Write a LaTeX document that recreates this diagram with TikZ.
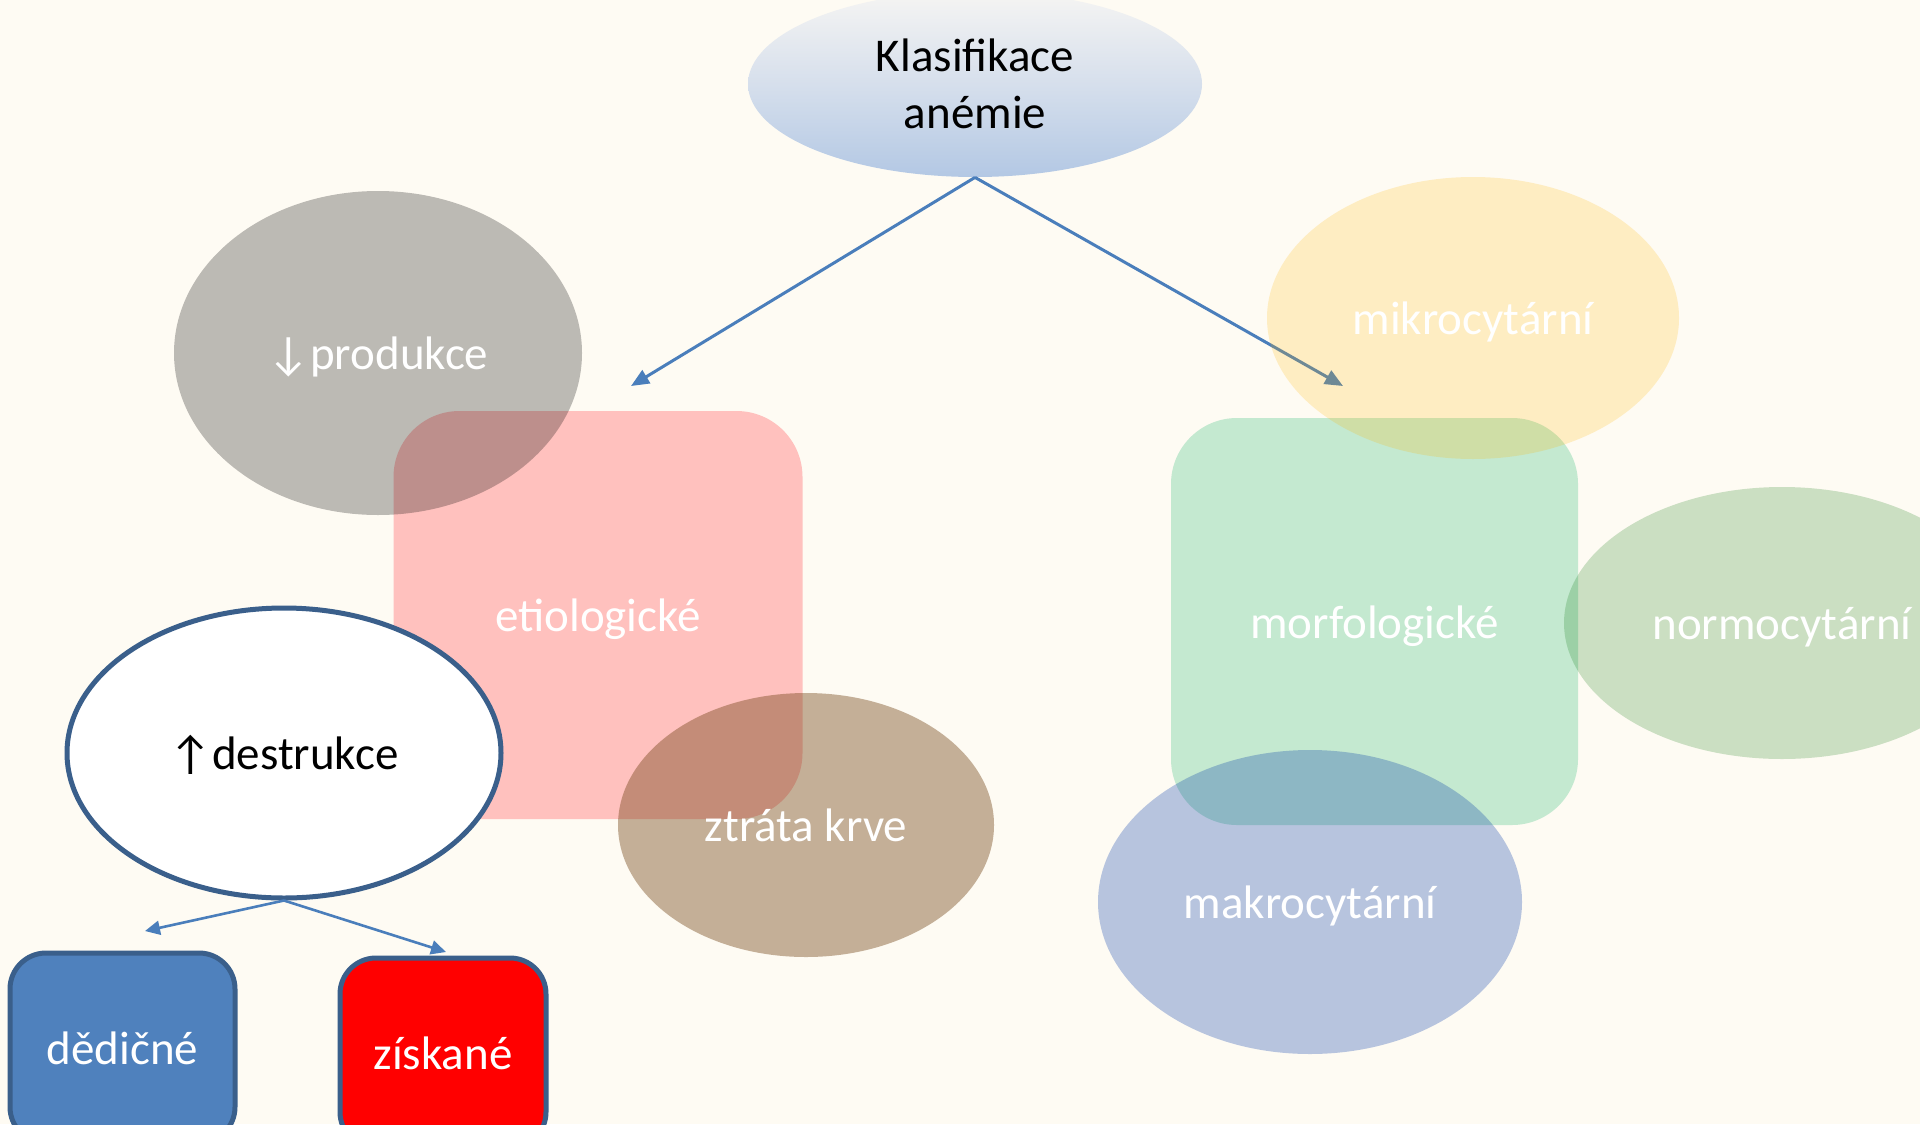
\documentclass[tikz,border=0pt]{standalone}
\usepackage{fontspec}
\setmainfont{Carlito}
\usetikzlibrary{shapes.geometric,arrows.meta}
\definecolor{bg}{HTML}{FEFBF3}
\definecolor{arrowblue}{HTML}{4A7EBB}
\definecolor{pinkfill}{HTML}{FFC1BE}
\definecolor{greenfill}{HTML}{C4E9D0}
\definecolor{brownbase}{HTML}{6D3D0F}
\definecolor{yellowbase}{HTML}{FFB500}
\definecolor{normobase}{HTML}{006F00}
\definecolor{makrobase}{HTML}{0037A8}
\definecolor{boxborder}{HTML}{3A5F8B}
\definecolor{bluebox}{HTML}{4F81BD}
\definecolor{topA}{HTML}{F6F5F3}
\definecolor{topB}{HTML}{D6DFEC}
\definecolor{topC}{HTML}{B3C8E4}
\tikzset{
  lbl/.style={font=\fontsize{23.5}{28.5}\selectfont, text=white, text opacity=1, inner sep=0pt, align=center},
  one/.style={text height=18.5pt, text depth=2pt},
  ell/.style={ellipse, lbl},
  rbox/.style={rectangle, rounded corners=33pt, lbl, one},
  conn/.style={draw=arrowblue, line width=1.5pt, -{Triangle[length=9pt,width=7.5pt]}},
  conn2/.style={draw=arrowblue, line width=1.3pt, -{Triangle[length=7.5pt,width=7pt]}},
  catbox/.style={rectangle, rounded corners=18pt, draw=boxborder, line width=2.5pt, lbl, one}
}
\begin{document}
\begin{tikzpicture}[x=0.5pt,y=-0.5pt]
\useasboundingbox (0,0) rectangle (1920,1124);
\fill[bg] (0,0) rectangle (1920,1124);
\clip (0,0) rectangle (1920,1124);

% top node
\node[ell, text=black, minimum width=227pt, minimum height=93pt,
      top color=topA, bottom color=topC, middle color=topB] (klas) at (975,84) {Klasifikace\\anémie};

\coordinate (etiTip) at (631,386);
\coordinate (morTip) at (1343,386);
\draw[conn] (klas.south) -- (etiTip);
\draw[conn] (klas.south) -- (morTip);

% left group
\node[rbox, fill=pinkfill, minimum width=204.5pt, minimum height=204pt] (eti) at (598,615) {etiologické};
\node[ell, one, fill=black, fill opacity=0.26, minimum width=204pt, minimum height=162pt] (prod) at (378,353) {↓produkce};
\node[ell, one, fill=brownbase, fill opacity=0.4, minimum width=188pt, minimum height=132pt] (ztrata) at (806,825) {ztráta krve};
\node[ell, one, fill=white, draw=boxborder, line width=2.5pt, text=black, minimum width=217pt, minimum height=145pt] (destr) at (284,753) {↑destrukce};

\coordinate (dedTip) at (145,931);
\coordinate (ziskTip) at (446,952);
\draw[conn2] (destr.south) -- (dedTip);
\draw[conn2] (destr.south) -- (ziskTip);

\node[catbox, fill=bluebox, minimum width=112.5pt, minimum height=95pt] (ded) at (122.5,1048) {dědičné};
\node[catbox, fill=red, minimum width=103pt, minimum height=95pt] (zisk) at (443,1053) {získané};

% right group
\node[rbox, fill=greenfill, minimum width=203.5pt, minimum height=203.5pt] (morf) at (1374.5,621.5) {morfologické};
\node[ell, one, fill=yellowbase, fill opacity=0.2, minimum width=206pt, minimum height=141pt] (mikro) at (1473,318) {mikrocytární};
\node[ell, one, fill=normobase, fill opacity=0.2, minimum width=218pt, minimum height=136pt] (normo) at (1782,623) {normocytární};
\node[ell, one, fill=makrobase, fill opacity=0.28, minimum width=212pt, minimum height=152pt] (makro) at (1310,902) {makrocytární};
\end{tikzpicture}
\end{document}
